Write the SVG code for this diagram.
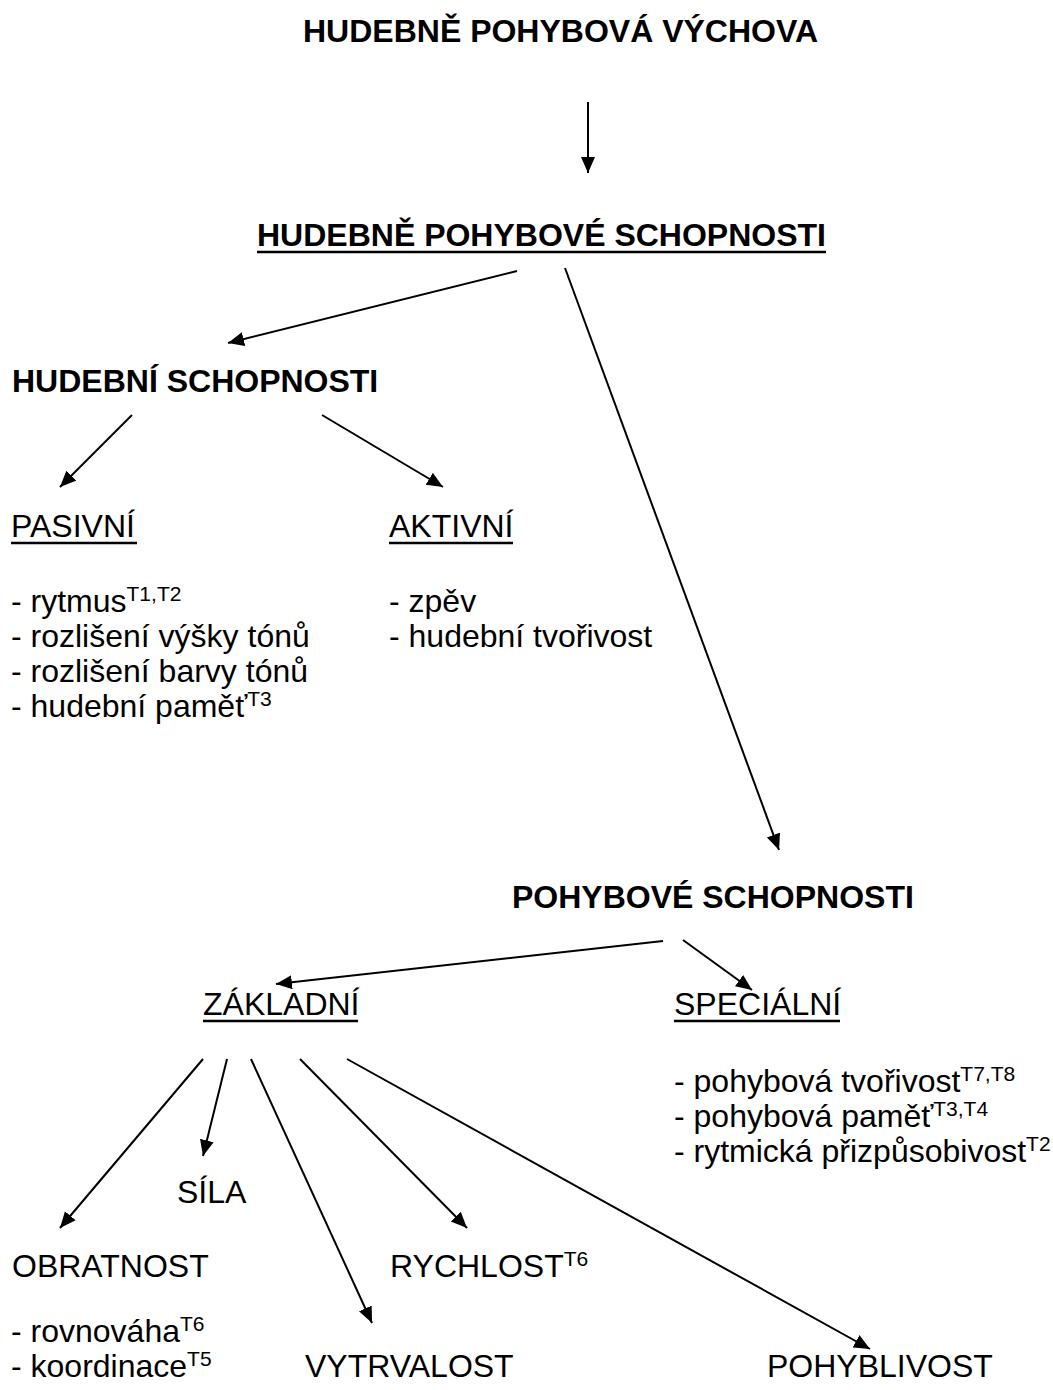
<svg xmlns="http://www.w3.org/2000/svg" width="1053" height="1390" viewBox="0 0 1053 1390">
<style>
text{font-family:"Liberation Sans",Arial,sans-serif;font-size:32px;fill:#000}
.b{font-weight:bold}
.sup{font-size:21px}
.ul{stroke:#000;stroke-width:2.5}
.c line{stroke:#000;stroke-width:2;marker-end:url(#ah)}
</style>
<defs>
<marker id="ah" markerUnits="userSpaceOnUse" markerWidth="17" markerHeight="15" refX="16" refY="7" orient="auto">
<path d="M0,0 L16,7 L0,14 z" fill="#000"/>
</marker>
</defs>
<rect width="1053" height="1390" fill="#fff"/>
<g id="n-title"><text class="b" x="303" y="42">HUDEBNĚ POHYBOVÁ VÝCHOVA</text></g>
<g id="n-hps"><text class="b" x="257" y="246">HUDEBNĚ POHYBOVÉ SCHOPNOSTI</text><line class="ul" x1="257" y1="252" x2="826" y2="252"/></g>
<g id="n-hs"><text class="b" x="12" y="392">HUDEBNÍ SCHOPNOSTI</text></g>
<g id="n-pasivni"><text x="11" y="537">PASIVNÍ</text><line class="ul" x1="11" y1="543" x2="137" y2="543"/>
<text x="11" y="612">- rytmus<tspan class="sup" dy="-11">T1,T2</tspan></text>
<text x="11" y="647">- rozlišení výšky tónů</text>
<text x="11" y="682">- rozlišení barvy tónů</text>
<text x="11" y="717">- hudební paměť<tspan class="sup" dy="-11">T3</tspan></text></g>
<g id="n-aktivni"><text x="389" y="537">AKTIVNÍ</text><line class="ul" x1="389" y1="543" x2="513" y2="543"/>
<text x="389" y="612">- zpěv</text>
<text x="389" y="647">- hudební tvořivost</text></g>
<g id="n-ps"><text class="b" x="512" y="908">POHYBOVÉ SCHOPNOSTI</text></g>
<g id="n-zakladni"><text x="203" y="1015">ZÁKLADNÍ</text><line class="ul" x1="203" y1="1021" x2="358" y2="1021"/></g>
<g id="n-specialni"><text x="674" y="1015">SPECIÁLNÍ</text><line class="ul" x1="674" y1="1021" x2="840" y2="1021"/>
<text x="674" y="1092">- pohybová tvořivost<tspan class="sup" dy="-11">T7,T8</tspan></text>
<text x="674" y="1127">- pohybová paměť<tspan class="sup" dy="-11">T3,T4</tspan></text>
<text x="674" y="1162">- rytmická přizpůsobivost<tspan class="sup" dy="-11">T2</tspan></text></g>
<g id="n-sila"><text x="177" y="1203">SÍLA</text></g>
<g id="n-obratnost"><text x="12" y="1277">OBRATNOST</text>
<text x="11" y="1342">- rovnováha<tspan class="sup" dy="-11">T6</tspan></text>
<text x="11" y="1377">- koordinace<tspan class="sup" dy="-11">T5</tspan></text></g>
<g id="n-rychlost"><text x="390" y="1277">RYCHLOST<tspan class="sup" dy="-11">T6</tspan></text></g>
<g id="n-vytrvalost"><text x="305" y="1377">VYTRVALOST</text></g>
<g id="n-pohyblivost"><text x="767" y="1377">POHYBLIVOST</text></g>
<g id="connectors" class="c">
<line x1="588" y1="102" x2="588" y2="173"/>
<line x1="517" y1="271" x2="228" y2="343"/>
<line x1="565" y1="268" x2="779" y2="850"/>
<line x1="132" y1="415" x2="60" y2="487"/>
<line x1="322" y1="415" x2="443" y2="487"/>
<line x1="663" y1="941" x2="276" y2="984"/>
<line x1="683" y1="940" x2="752" y2="990"/>
<line x1="203" y1="1059" x2="60" y2="1228"/>
<line x1="227" y1="1059" x2="203" y2="1156"/>
<line x1="251" y1="1059" x2="372" y2="1323"/>
<line x1="300" y1="1059" x2="467" y2="1228"/>
<line x1="347" y1="1059" x2="870" y2="1349"/>
</g>
</svg>
